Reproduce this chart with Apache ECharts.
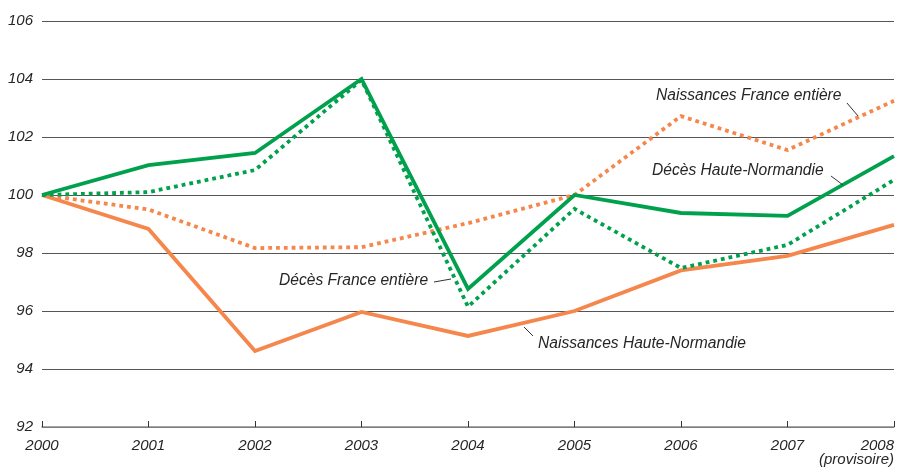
<!DOCTYPE html>
<html>
<head>
<meta charset="utf-8">
<script src="https://cdn.jsdelivr.net/npm/echarts@6/dist/echarts.min.js"></script>
<style>
  html, body { margin: 0; padding: 0; background: #fff; }
  #main { width: 897px; height: 472px; }
</style>
</head>
<body>
<div id="main"></div>
<script>
// années
var years = ['2000', '2001', '2002', '2003', '2004', '2005', '2006', '2007', '2008'];
// indices base 100 en 2000
var naissancesHN = [100, 98.83, 94.62, 95.97, 95.14, 96.0, 97.4, 97.9, 98.97];
var naissancesFR = [100, 99.5, 98.17, 98.2, 99.03, 100.0, 102.72, 101.55, 103.25];
var decesHN = [100, 101.03, 101.45, 104.0, 96.76, 100.0, 99.38, 99.28, 101.34];
var decesFR = [100, 100.1, 100.86, 103.97, 96.15, 99.52, 97.48, 98.28, 100.52];

var GREEN = '#00a14d';
var ORANGE = '#f5874c';
var font = '"Liberation Sans", Arial, sans-serif';

var myChart = echarts.init(document.getElementById('main'));

function lineSerie(name, data, color, dotted) {
  return {
    name: name,
    type: 'line',
    data: data,
    symbol: 'none',
    animation: false,
    lineStyle: {
      color: color,
      width: 3.8,
      type: dotted ? [3.8, 4] : 'solid',
      cap: 'butt',
      join: 'miter'
    }
  };
}

// annotation : texte + petit trait de rappel
function note(text, x, y, line) {
  return [{
    type: 'text',
    left: x, top: y - 9,
    style: {
      text: text,
      font: 'italic 15.6px ' + font,
      fill: '#262626'
    },
    z: 10
  }, {
    type: 'line',
    shape: { x1: line[0], y1: line[1], x2: line[2], y2: line[3] },
    style: { stroke: '#333', lineWidth: 1 },
    z: 10
  }];
}

var graphics = [].concat(
  note('Naissances France entière', 656, 97, [847, 103, 858, 116]),
  note('Décès Haute-Normandie', 652, 172, [831, 176, 843, 185]),
  note('Décès France entière', 279, 282, [434, 282, 451, 279]),
  note('Naissances Haute-Normandie', 538, 345, [524, 327, 533, 336])
);

myChart.setOption({
  backgroundColor: '#fff',
  grid: { left: 42, right: 2, top: 21, bottom: 45 },
  xAxis: {
    type: 'category',
    data: years,
    boundaryGap: false,
    axisLine: { show: true, lineStyle: { color: '#8a8a8a', width: 1.5 } },
    axisTick: { show: true, inside: true, length: 6, lineStyle: { color: '#333', width: 1 } },
    axisLabel: {
      color: '#262626',
      fontStyle: 'italic',
      fontSize: 15,
      fontFamily: font,
      margin: 12,
      lineHeight: 14,
      alignMaxLabel: 'right',
      formatter: function (v) {
        return v === '2008' ? '2008\n(provisoire)' : v;
      }
    },
    splitLine: { show: false }
  },
  yAxis: {
    type: 'value',
    min: 92,
    max: 106,
    interval: 2,
    axisLine: { show: false },
    axisTick: { show: false },
    axisLabel: {
      color: '#262626',
      fontStyle: 'italic',
      fontSize: 15,
      fontFamily: font,
      margin: 9
    },
    splitLine: { show: true, lineStyle: { color: '#555', width: 1.2 } }
  },
  series: [
    lineSerie('Naissances France entière', naissancesFR, ORANGE, true),
    lineSerie('Naissances Haute-Normandie', naissancesHN, ORANGE, false),
    lineSerie('Décès France entière', decesFR, GREEN, true),
    lineSerie('Décès Haute-Normandie', decesHN, GREEN, false)
  ],
  graphic: graphics
});
</script>
</body>
</html>
